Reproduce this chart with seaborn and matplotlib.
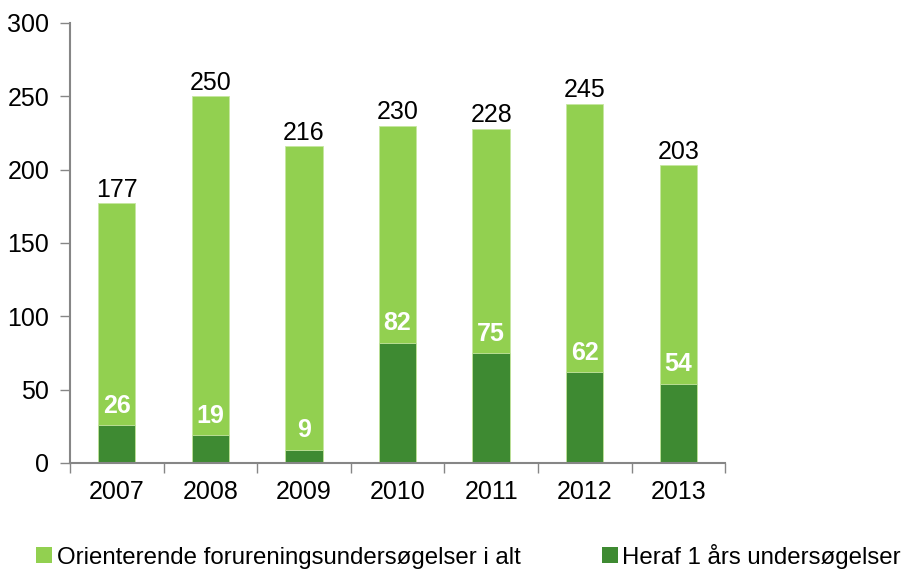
import matplotlib
matplotlib.use("Agg")
import matplotlib.pyplot as plt
import seaborn as sns
import pandas as pd
from matplotlib.patches import Patch

years = ["2007", "2008", "2009", "2010", "2011", "2012", "2013"]
totals = [177, 250, 216, 230, 228, 245, 203]
one_year = [26, 19, 9, 82, 75, 62, 54]
label_total = "Orienterende forureningsundersøgelser i alt"
label_one = "Heraf 1 års undersøgelser"

light = "#92D050"
dark = "#3E8A32"

sns.set_theme(style="white")
plt.rcParams['font.family'] = ['Liberation Sans', 'DejaVu Sans']

df = pd.DataFrame({"year": years, "total": totals, "one": one_year})

fig = plt.figure(figsize=(9.03, 5.74), dpi=100)
ax = fig.add_axes([0.0775, 0.1934, 0.7255, 0.7666])

sns.barplot(data=df, x="year", y="total", color=light, width=0.4, ax=ax,
            saturation=1, edgecolor="#C6E6A0", linewidth=0.6)
sns.barplot(data=df, x="year", y="one", color=dark, width=0.4, ax=ax,
            saturation=1, edgecolor="#C6E6A0", linewidth=0.6)

fs = 18
for i, (t, o) in enumerate(zip(totals, one_year)):
    ax.text(i, t + 1.0, str(t), ha="center", va="bottom", fontsize=fs, color="black")
    ax.text(i, o + 5, str(o), ha="center", va="bottom", fontsize=fs,
            color="white", fontweight="bold")

ax.set_ylim(0, 300)
ax.set_xlim(-0.5, 6.5)
ax.set_yticks(range(0, 301, 50))
ax.set_xlabel("")
ax.set_ylabel("")
ax.tick_params(axis="y", labelsize=fs, length=7, width=1, color="#868686",
               labelcolor="black", direction="out", left=True, pad=8)
ax.tick_params(axis="x", which="major", labelsize=fs, length=0, pad=12,
               labelcolor="black")
ax.set_xticks([i + 0.5 for i in range(-1, 7)], minor=True)
ax.tick_params(axis="x", which="minor", length=7, width=1, color="#868686",
               direction="out", bottom=True)
for s in ["top", "right"]:
    ax.spines[s].set_visible(False)
for s in ["left", "bottom"]:
    ax.spines[s].set_color("#868686")
    ax.spines[s].set_linewidth(1.5)

handles = [Patch(facecolor=light, edgecolor="none", label=label_total),
           Patch(facecolor=dark, edgecolor="none", label=label_one)]
leg = fig.legend(handles=handles, loc="center", bbox_to_anchor=(0.519, 0.031), ncol=2,
                 frameon=False, fontsize=17.3, handlelength=0.65, handleheight=0.65,
                 handletextpad=0.2, columnspacing=3.4)
for t in leg.get_texts():
    t.set_color("black")

fig.savefig("out.png", dpi=100)
